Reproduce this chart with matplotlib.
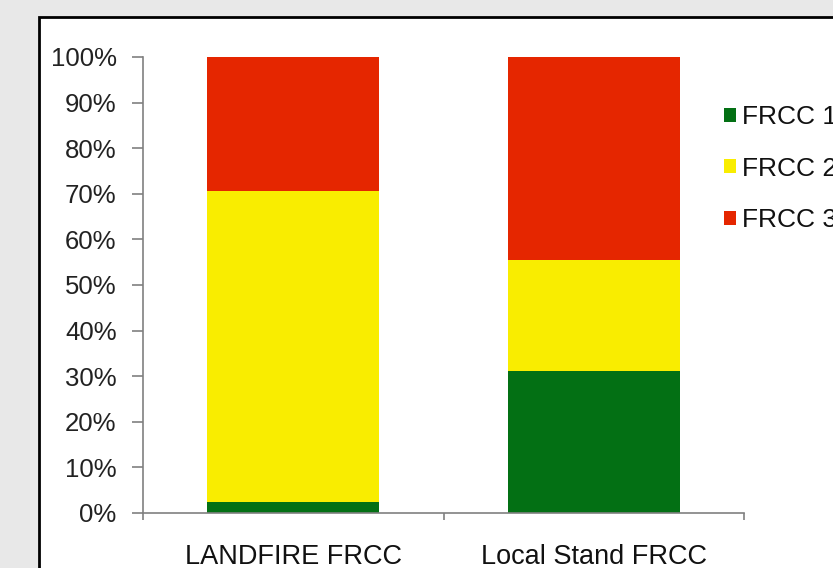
import matplotlib
matplotlib.use("Agg")
import matplotlib.pyplot as plt
from matplotlib.patches import Rectangle, Patch
from matplotlib.ticker import PercentFormatter

categories = ["LANDFIRE FRCC", "Local Stand FRCC"]
series_names = ["FRCC 1", "FRCC 2", "FRCC 3"]
frcc1 = [2.4, 31.1]
frcc2 = [68.2, 24.4]
frcc3 = [29.4, 44.5]
colors = ["#037014", "#f9ed00", "#e52600"]

plt.rcParams["font.family"] = ["Liberation Sans", "DejaVu Sans"]

fig = plt.figure(figsize=(8.33, 5.68), dpi=100)
fig.patch.set_facecolor("#e8e8e8")

# white panel with black border, running off the right and bottom edges
panel = Rectangle((39 / 833, -0.05), 1.0, 1 - 17 / 568 + 0.05,
                  transform=fig.transFigure, facecolor="white",
                  edgecolor="black", linewidth=2, zorder=-10)
fig.patches.append(panel)

ax = fig.add_axes([143 / 833, 1 - 513 / 568, (744 - 143) / 833, (513 - 57) / 568])
ax.set_facecolor("none")
ax.set_zorder(5)

x = range(len(categories))
w = 0.573
bottom = [0, 0]
for vals, name, c in zip([frcc1, frcc2, frcc3], series_names, colors):
    ax.bar(x, vals, width=w, bottom=bottom, color=c, label=name, zorder=2)
    bottom = [b + v for b, v in zip(bottom, vals)]

ax.set_xlim(-0.5, 1.5)
ax.set_ylim(0, 100)
ax.set_yticks(range(0, 101, 10))
ax.yaxis.set_major_formatter(PercentFormatter(decimals=0))
ax.set_xticks([-0.5, 0.5, 1.5], minor=False)
ax.set_xticklabels([])
ax.set_xticks([0, 1], minor=True)
ax.set_xticklabels(categories, minor=True)
ax.tick_params(axis="x", which="minor", length=0, pad=22, labelsize=19.5, labelcolor="#111111")
ax.tick_params(axis="x", which="major", length=5, color="#808080", width=1.2)
ax.tick_params(axis="y", length=8, color="#808080", width=1.2, pad=11,
               labelsize=18.5, labelcolor="#222222")

for s in ["top", "right"]:
    ax.spines[s].set_visible(False)
for s in ["left", "bottom"]:
    ax.spines[s].set_color("#808080")
    ax.spines[s].set_linewidth(1.2)

handles = [Patch(facecolor=c, label=n) for c, n in zip(colors, series_names)]
leg = fig.legend(handles=handles, loc="upper left", bbox_to_anchor=(724 / 833, 1 - 105 / 568),
                 frameon=False, fontsize=19, handlelength=0.45, handleheight=0.45,
                 handletextpad=0.25, labelspacing=1.05, borderaxespad=0, borderpad=0)
for t in leg.get_texts():
    t.set_color("#111111")

fig.savefig("out.png", dpi=100, facecolor=fig.get_facecolor())
